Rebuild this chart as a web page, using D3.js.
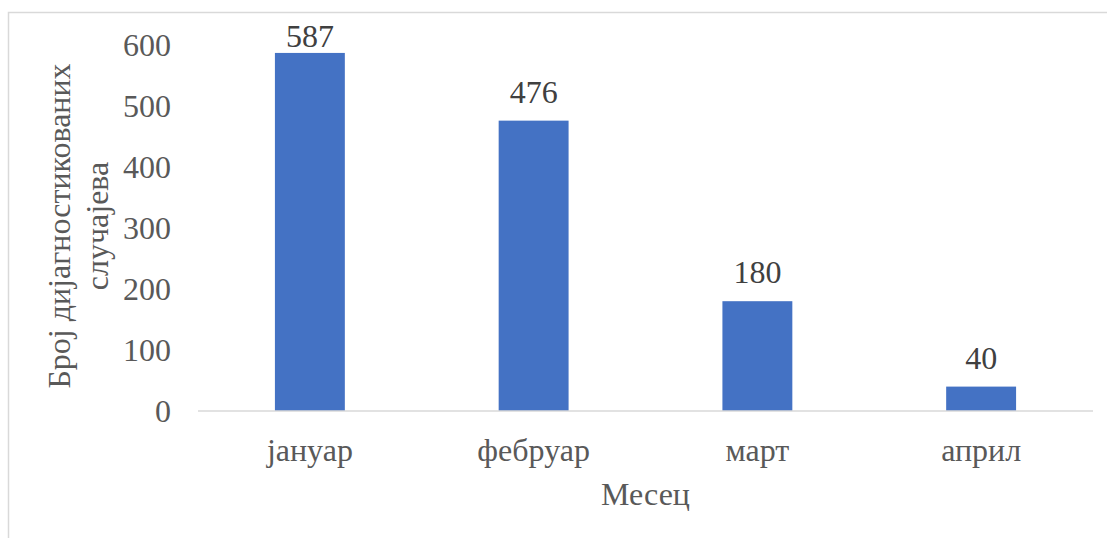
<!DOCTYPE html>
<html>
<head>
<meta charset="utf-8">
<script src="https://cdn.jsdelivr.net/npm/d3@7"></script>
</head>
<body style="margin:0; background:#fff">
<div id="chart"></div>
<script>
// chart data
const months = ['јануар', 'фебруар', 'март', 'април'];
const cases = [587, 476, 180, 40];
const yTicks = [0, 100, 200, 300, 400, 500, 600];
const yTitle = ['Број дијагностикованих', 'случајева'];
const xTitle = 'Месец';

const width = 1107, height = 538;
const margin = { top: 45, right: 14, bottom: 127, left: 198 };
const font = 'Liberation Serif';
const fontSize = 32;
const textColor = '#595959';

const svg = d3.select('#chart').append('svg')
    .attr('width', width)
    .attr('height', height);

// chart frame (only left and top edges fall inside the window)
svg.append('rect')
    .attr('x', 8.5).attr('y', 12.5)
    .attr('width', width + 20).attr('height', height + 20)
    .attr('fill', 'none')
    .attr('stroke', '#d9d9d9')
    .attr('stroke-width', 1.5);

const x = d3.scaleBand()
    .domain(months)
    .range([margin.left, width - margin.right]);

const y = d3.scaleLinear()
    .domain([0, 600])
    .range([height - margin.bottom, margin.top]);

const barW = x.bandwidth() * 0.3125;

function label(sel) {
    return sel.attr('font-family', font)
        .attr('font-size', fontSize)
        .attr('fill', textColor);
}

// y tick labels
svg.append('g')
    .selectAll('text')
    .data(yTicks)
    .enter().append('text')
    .call(label)
    .attr('x', 171)
    .attr('y', d => y(d))
    .attr('dy', '0.33em')
    .attr('text-anchor', 'end')
    .text(d => d);

// bars
svg.append('g')
    .selectAll('rect')
    .data(cases)
    .enter().append('rect')
    .attr('x', (d, i) => x(months[i]) + x.bandwidth() / 2 - barW / 2)
    .attr('y', d => y(d))
    .attr('width', barW)
    .attr('height', d => y(0) - y(d))
    .attr('fill', '#4472c4');

// baseline
svg.append('line')
    .attr('x1', margin.left).attr('x2', width - margin.right)
    .attr('y1', y(0)).attr('y2', y(0))
    .attr('stroke', '#d9d9d9')
    .attr('stroke-width', 1.5);

// value labels
svg.append('g')
    .selectAll('text')
    .data(cases)
    .enter().append('text')
    .call(label)
    .attr('fill', '#404040')
    .attr('x', (d, i) => x(months[i]) + x.bandwidth() / 2)
    .attr('y', d => Math.max(y(d) - 18, 47))
    .attr('text-anchor', 'middle')
    .text(d => d);

// category labels
svg.append('g')
    .selectAll('text')
    .data(months)
    .enter().append('text')
    .call(label)
    .attr('x', d => x(d) + x.bandwidth() / 2)
    .attr('y', 461)
    .attr('text-anchor', 'middle')
    .text(d => d);

// axis titles
svg.append('text')
    .call(label)
    .attr('x', (margin.left + width - margin.right) / 2)
    .attr('y', 505)
    .attr('text-anchor', 'middle')
    .text(xTitle);

svg.append('text')
    .call(label)
    .attr('transform', 'translate(73,226) rotate(-90)')
    .attr('text-anchor', 'middle')
    .selectAll('tspan')
    .data(yTitle)
    .enter().append('tspan')
    .attr('x', 0)
    .attr('dy', (d, i) => i === 0 ? '-0.1em' : '1.2em')
    .text(d => d);
</script>
</body>
</html>
